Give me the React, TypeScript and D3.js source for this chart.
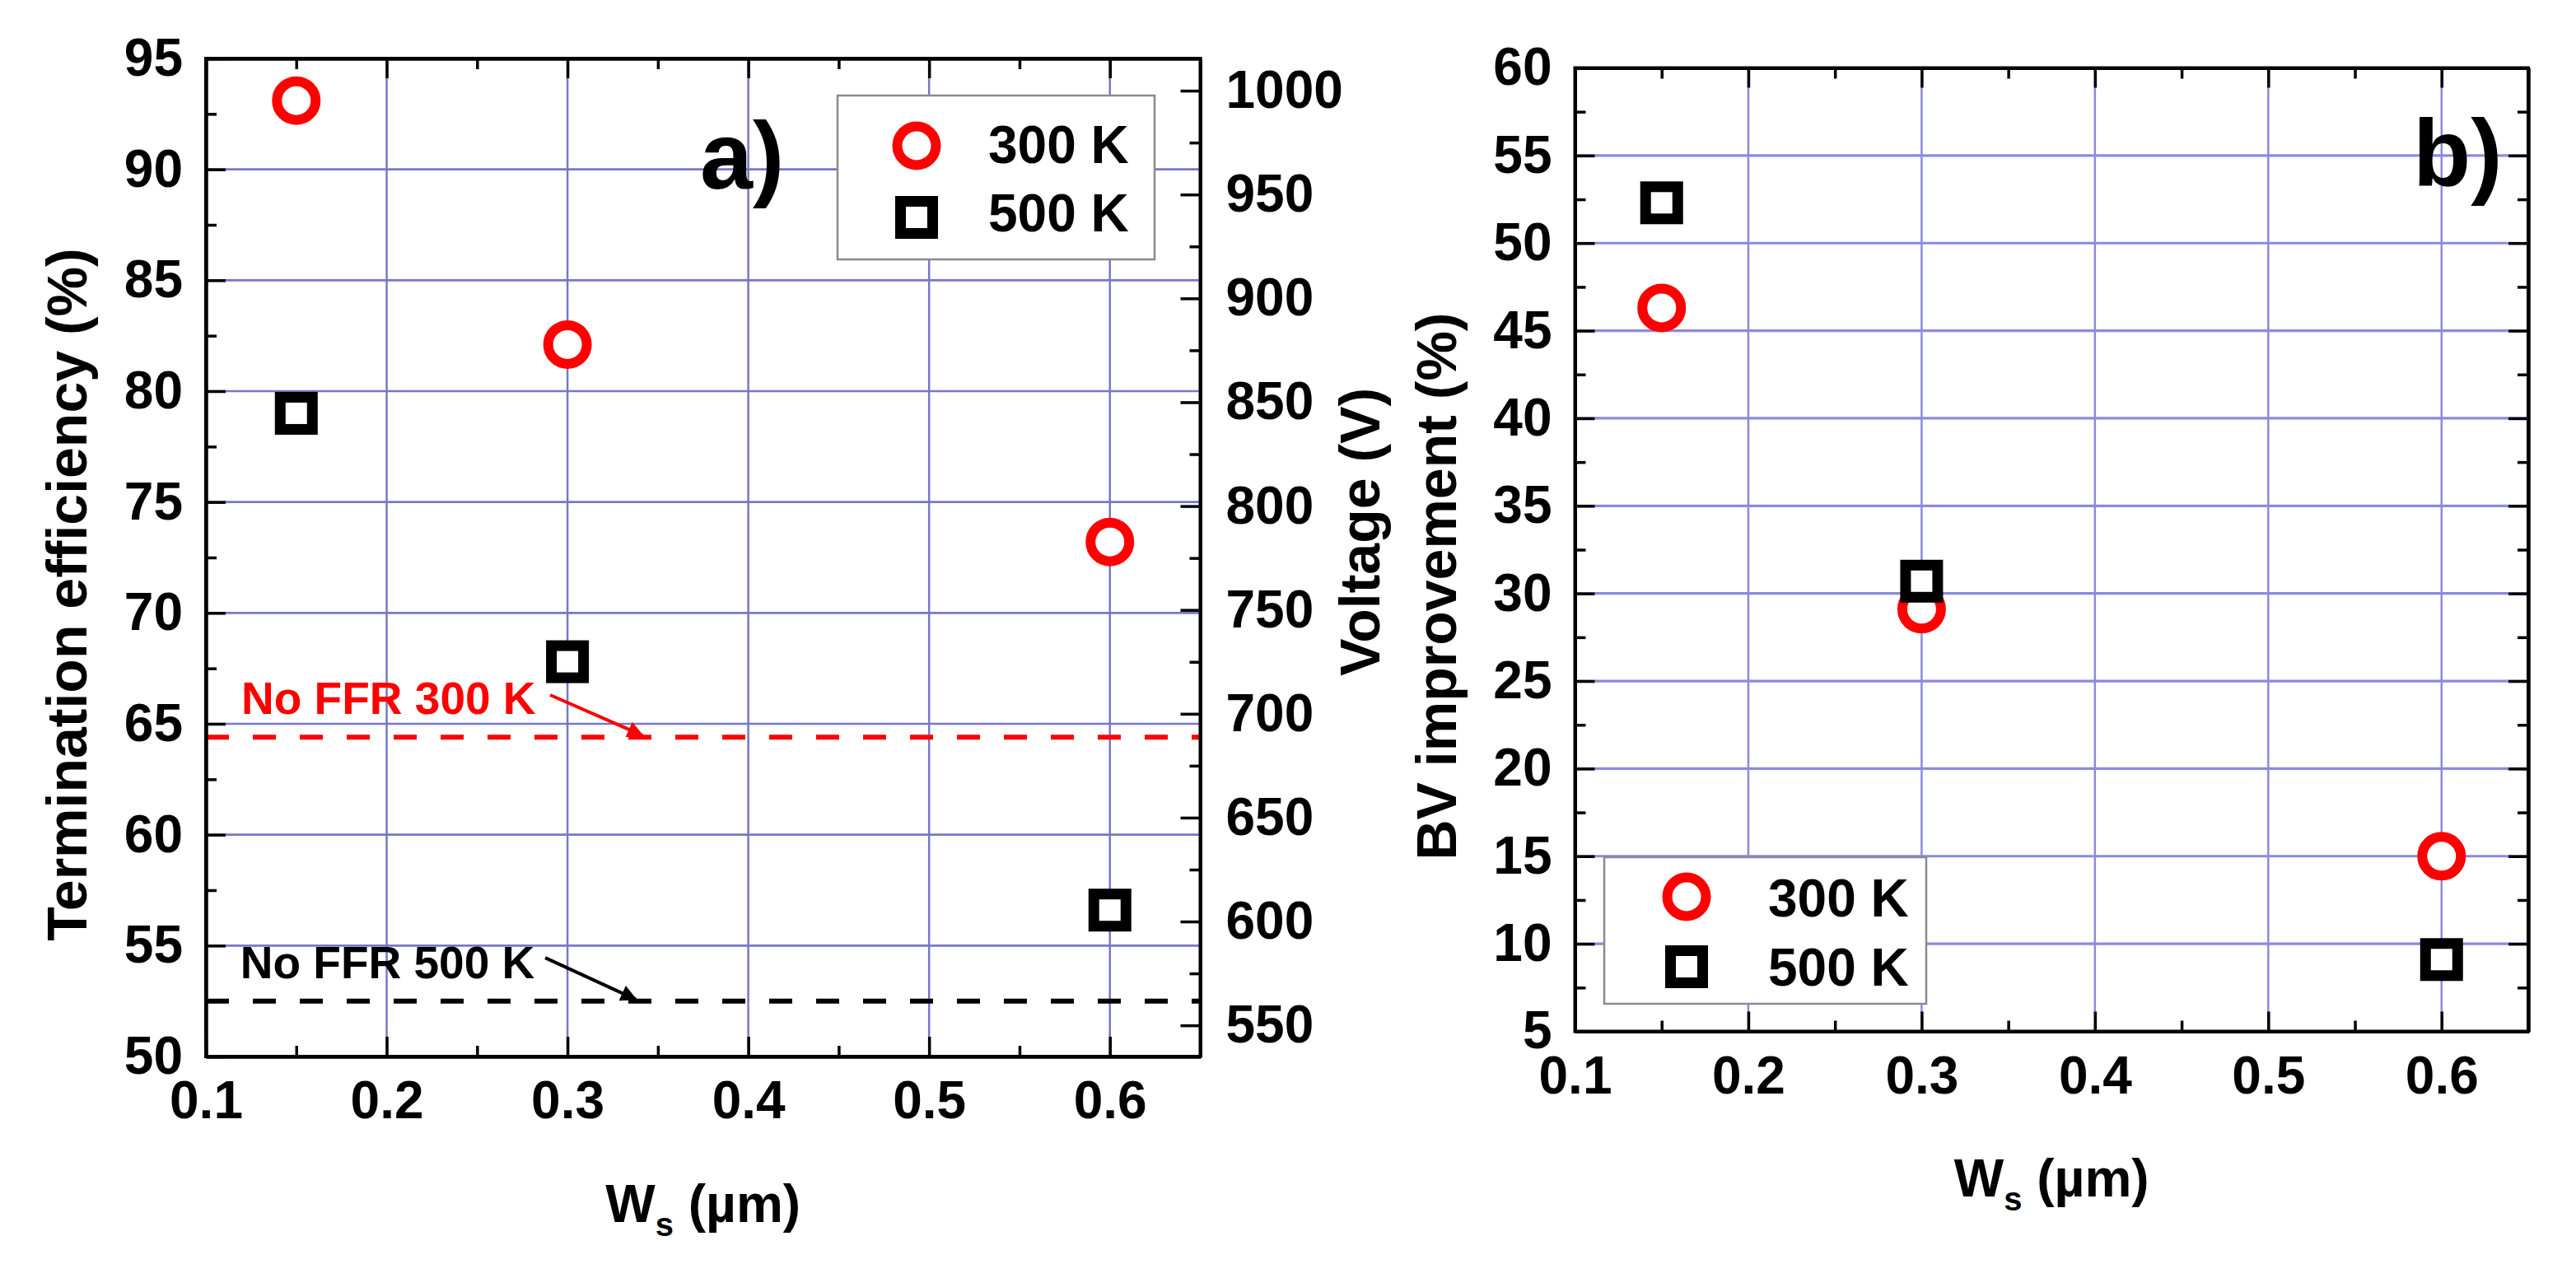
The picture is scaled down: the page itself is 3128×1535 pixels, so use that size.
import React, { useEffect, useRef } from 'react';
import * as d3 from 'd3';

// values
const wsValues = [0.15, 0.3, 0.6];
const efficiency300K = [93.1, 82.1, 73.2];
const efficiency500K = [79.0, 67.8, 56.6];
const improvement300K = [46.3, 29.1, 15.0];
const improvement500K = [52.3, 30.7, 9.1];
const noFfr300K = 64.4;
const noFfr500K = 52.5;
const seriesNames = ['300 K', '500 K'];

const wsTicks = [0.1, 0.2, 0.3, 0.4, 0.5, 0.6];
const efficiencyTicks = [50, 55, 60, 65, 70, 75, 80, 85, 90, 95];
const voltageTicks = [550, 600, 650, 700, 750, 800, 850, 900, 950, 1000];
const improvementTicks = [5, 10, 15, 20, 25, 30, 35, 40, 45, 50, 55, 60];

const FONT = '"Liberation Sans", Arial, Helvetica, sans-serif';
const RED = '#ff0000';
const W = 3128;
const H = 1535;

type Sel = d3.Selection<SVGGElement, unknown, null, undefined>;

function styleAxis(g: Sel) {
  g.select('.domain').attr('stroke', '#000').attr('stroke-width', 4);
  g.selectAll('.tick line').attr('stroke', '#000').attr('stroke-width', 3.5);
  g.selectAll('.tick text')
    .attr('font-family', FONT)
    .attr('font-size', 64)
    .attr('font-weight', 'bold')
    .attr('fill', '#000');
}

function circleMark(g: Sel, cx: number, cy: number) {
  g.append('circle')
    .attr('cx', cx)
    .attr('cy', cy)
    .attr('r', 23.5)
    .attr('fill', '#fff')
    .attr('stroke', RED)
    .attr('stroke-width', 12);
}

function squareMark(g: Sel, cx: number, cy: number) {
  const s = 39;
  g.append('rect')
    .attr('x', cx - s / 2)
    .attr('y', cy - s / 2)
    .attr('width', s)
    .attr('height', s)
    .attr('fill', '#fff')
    .attr('stroke', '#000')
    .attr('stroke-width', 13);
}

export default function App(): JSX.Element {
  const svgRef = useRef<SVGSVGElement>(null);

  useEffect(() => {
    const svgEle = svgRef.current;
    if (svgEle == null) {
      return;
    }
    const svg = d3.select(svgEle);
    svg.selectAll('*').remove();
    const root = svg.append('g') as unknown as Sel;

    const minorOf = (ticks: number[], step: number) => ticks.slice(0, -1).map((t) => t + step / 2);
    const wsMinor = wsTicks.map((t) => t + 0.05);

    // ---------- panel a ----------
    const xa = d3.scaleLinear().domain([0.1, 0.65]).range([250, 1457.5]);
    const ya = d3.scaleLinear().domain([50, 95]).range([1283, 71]);
    const yv = d3.scaleLinear().domain([535, 1015.5]).range([1283, 71]);

    // ---------- panel b ----------
    const xb = d3.scaleLinear().domain([0.1, 0.65]).range([1912.5, 3070]);
    const yb = d3.scaleLinear().domain([5, 60]).range([1252.5, 82.5]);

    const panels = [
      { x: xa, y: ya, yTicks: efficiencyTicks, gridColor: '#7777c8', gw: 2.5, gh: 2.6 },
      { x: xb, y: yb, yTicks: improvementTicks, gridColor: '#8a8ae0', gw: 2.5, gh: 3.2 }
    ];

    panels.forEach((p) => {
      const [x0, x1] = p.x.range();
      const [y0, y1] = p.y.range();
      const grid = root.append('g');
      grid
        .selectAll('line.v')
        .data(wsTicks.slice(1))
        .enter()
        .append('line')
        .attr('x1', (d) => p.x(d))
        .attr('x2', (d) => p.x(d))
        .attr('y1', y1)
        .attr('y2', y0)
        .attr('stroke', p.gridColor)
        .attr('stroke-width', p.gw);
      grid
        .selectAll('line.h')
        .data(p.yTicks.slice(1, -1))
        .enter()
        .append('line')
        .attr('x1', x0)
        .attr('x2', x1)
        .attr('y1', (d) => p.y(d))
        .attr('y2', (d) => p.y(d))
        .attr('stroke', p.gridColor)
        .attr('stroke-width', p.gh);
    });

    // no-FFR reference lines
    const refs = [
      { v: noFfr300K, color: RED, label: 'No FFR 300 K', lx: 0.1196, ly: 65.44, ax: 0.2904, ay: 66.3, bx: 0.3415 },
      { v: noFfr500K, color: '#000', label: 'No FFR 500 K', lx: 0.119, ly: 53.52, ax: 0.2877, ay: 54.45, bx: 0.3378 }
    ];
    const defs = svg.append('defs');
    refs.forEach((r, i) => {
      defs
        .append('marker')
        .attr('id', `arrow${i}`)
        .attr('viewBox', '0 0 10 10')
        .attr('refX', 9)
        .attr('refY', 5)
        .attr('markerUnits', 'userSpaceOnUse')
        .attr('markerWidth', 24)
        .attr('markerHeight', 20)
        .attr('orient', 'auto')
        .append('path')
        .attr('d', 'M0,0L10,5L0,10z')
        .attr('fill', r.color);
      root
        .append('line')
        .attr('x1', xa(0.1))
        .attr('x2', xa(0.65))
        .attr('y1', ya(r.v))
        .attr('y2', ya(r.v))
        .attr('stroke', r.color)
        .attr('stroke-width', 6)
        .attr('stroke-dasharray', '28 29');
      root
        .append('line')
        .attr('x1', xa(r.ax))
        .attr('y1', ya(r.ay))
        .attr('x2', xa(r.bx))
        .attr('y2', ya(r.v) - 2)
        .attr('stroke', r.color)
        .attr('stroke-width', 4)
        .attr('marker-end', `url(#arrow${i})`);
      root
        .append('text')
        .attr('x', xa(r.lx))
        .attr('y', ya(r.ly))
        .attr('font-family', FONT)
        .attr('font-weight', 'bold')
        .attr('font-size', 55)
        .attr('fill', r.color)
        .text(r.label);
    });

    // axes
    const fmtWs = d3.format('.1f');
    const fmtInt = d3.format('d');
    const addAxis = (axis: d3.Axis<d3.NumberValue>, tx: number, ty: number) => {
      const g = root.append('g').attr('transform', `translate(${tx},${ty})`).call(axis) as unknown as Sel;
      styleAxis(g);
      return g;
    };
    const none = () => '';
    const intLabel = (d: d3.NumberValue) => fmtInt(d as number);
    const wsLabel = (d: d3.NumberValue) => fmtWs(d as number);

    // panel a
    addAxis(d3.axisLeft(ya).tickValues(efficiencyTicks).tickSize(-24).tickSizeOuter(0).tickPadding(28).tickFormat(intLabel), 250, 0);
    addAxis(d3.axisLeft(ya).tickValues(minorOf(efficiencyTicks, 5)).tickSize(-13).tickSizeOuter(0).tickFormat(none), 250, 0);
    addAxis(d3.axisRight(yv).tickValues(voltageTicks).tickSize(-24).tickSizeOuter(0).tickPadding(31).tickFormat(intLabel), 1457.5, 0);
    addAxis(d3.axisRight(yv).tickValues(minorOf(voltageTicks, 50)).tickSize(-13).tickSizeOuter(0).tickFormat(none), 1457.5, 0);
    addAxis(d3.axisBottom(xa).tickValues(wsTicks).tickSize(-24).tickSizeOuter(0).tickPadding(30).tickFormat(wsLabel), 0, 1283);
    addAxis(d3.axisBottom(xa).tickValues(wsMinor).tickSize(-13).tickSizeOuter(0).tickFormat(none), 0, 1283);
    addAxis(d3.axisTop(xa).tickValues(wsTicks).tickSize(-24).tickSizeOuter(0).tickFormat(none), 0, 71);
    addAxis(d3.axisTop(xa).tickValues(wsMinor).tickSize(-13).tickSizeOuter(0).tickFormat(none), 0, 71);

    // panel b
    addAxis(d3.axisLeft(yb).tickValues(improvementTicks).tickSize(-24).tickSizeOuter(0).tickPadding(28).tickFormat(intLabel), 1912.5, 0);
    addAxis(d3.axisLeft(yb).tickValues(minorOf(improvementTicks, 5)).tickSize(-13).tickSizeOuter(0).tickFormat(none), 1912.5, 0);
    addAxis(d3.axisRight(yb).tickValues(improvementTicks).tickSize(-24).tickSizeOuter(0).tickFormat(none), 3070, 0);
    addAxis(d3.axisRight(yb).tickValues(minorOf(improvementTicks, 5)).tickSize(-13).tickSizeOuter(0).tickFormat(none), 3070, 0);
    addAxis(d3.axisBottom(xb).tickValues(wsTicks).tickSize(-24).tickSizeOuter(0).tickPadding(30).tickFormat(wsLabel), 0, 1252.5);
    addAxis(d3.axisBottom(xb).tickValues(wsMinor).tickSize(-13).tickSizeOuter(0).tickFormat(none), 0, 1252.5);
    addAxis(d3.axisTop(xb).tickValues(wsTicks).tickSize(-24).tickSizeOuter(0).tickFormat(none), 0, 82.5);
    addAxis(d3.axisTop(xb).tickValues(wsMinor).tickSize(-13).tickSizeOuter(0).tickFormat(none), 0, 82.5);

    // frames
    panels.forEach((p) => {
      const [x0, x1] = p.x.range();
      const [y0, y1] = p.y.range();
      root
        .append('rect')
        .attr('x', x0)
        .attr('y', y1)
        .attr('width', x1 - x0)
        .attr('height', y0 - y1)
        .attr('fill', 'none')
        .attr('stroke', '#000')
        .attr('stroke-width', 4);
    });

    // markers
    wsValues.forEach((w, i) => circleMark(root, xa(w), ya(efficiency300K[i])));
    wsValues.forEach((w, i) => squareMark(root, xa(w), ya(efficiency500K[i])));
    wsValues.forEach((w, i) => circleMark(root, xb(w), yb(improvement300K[i])));
    wsValues.forEach((w, i) => squareMark(root, xb(w), yb(improvement500K[i])));

    // legends
    const legends = [
      { box: [1017, 116, 385, 199], mx: 1113, tx: 1200, rows: [177, 264], base: [198, 281] },
      { box: [1948, 1041, 391, 178], mx: 2048, tx: 2147, rows: [1089, 1174], base: [1112.7, 1196.7] }
    ];
    legends.forEach((l) => {
      root
        .append('rect')
        .attr('x', l.box[0])
        .attr('y', l.box[1])
        .attr('width', l.box[2])
        .attr('height', l.box[3])
        .attr('fill', '#fff')
        .attr('stroke', '#8a8a8a')
        .attr('stroke-width', 2.5);
      circleMark(root, l.mx, l.rows[0]);
      squareMark(root, l.mx, l.rows[1]);
      seriesNames.forEach((name, i) => {
        root
          .append('text')
          .attr('x', l.tx)
          .attr('y', l.base[i])
          .attr('font-family', FONT)
          .attr('font-weight', 'bold')
          .attr('font-size', 64)
          .text(name);
      });
    });

    // panel letters
    [
      { t: 'a)', x: 850, y: 229 },
      { t: 'b)', x: 2930, y: 226 }
    ].forEach((d) => {
      root
        .append('text')
        .attr('x', d.x)
        .attr('y', d.y)
        .attr('font-family', FONT)
        .attr('font-weight', 'bold')
        .attr('font-size', 115)
        .text(d.t);
    });

    // axis titles
    const yTitles = [
      { t: 'Termination efficiency (%)', x: 105, y: 722 },
      { t: 'Voltage (V)', x: 1675, y: 646 },
      { t: 'BV improvement (%)', x: 1768, y: 712 }
    ];
    yTitles.forEach((d) => {
      root
        .append('text')
        .attr('transform', `translate(${d.x},${d.y}) rotate(-90)`)
        .attr('text-anchor', 'middle')
        .attr('font-family', FONT)
        .attr('font-weight', 'bold')
        .attr('font-size', 68)
        .text(d.t);
    });

    [
      { x: (xa(0.1) + xa(0.65)) / 2, y: 1484 },
      { x: (xb(0.1) + xb(0.65)) / 2, y: 1453 }
    ].forEach((d) => {
      const t = root
        .append('text')
        .attr('x', d.x)
        .attr('y', d.y)
        .attr('text-anchor', 'middle')
        .attr('font-family', FONT)
        .attr('font-weight', 'bold')
        .attr('font-size', 64);
      t.append('tspan').text('W');
      t.append('tspan').attr('font-size', 40).attr('dy', 17).text('s');
      t.append('tspan').attr('dy', -17).text(' (µm)');
    });
  });

  return (
    <svg
      ref={svgRef}
      width={W}
      height={H}
      viewBox={`0 0 ${W} ${H}`}
      style={{ position: 'absolute', left: 0, top: 0, background: '#fff' }}
    />
  );
}
